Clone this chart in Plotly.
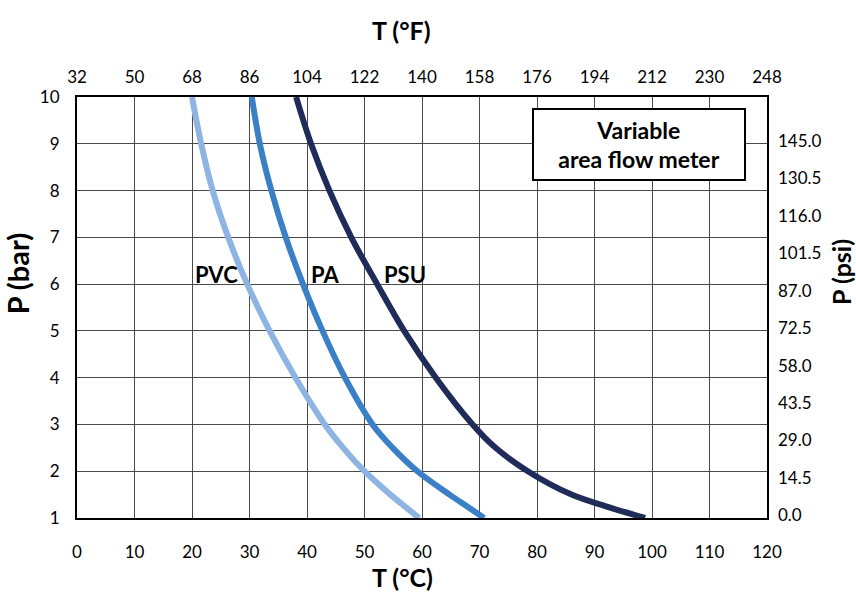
import plotly.graph_objects as go

# ---- data ----
P_BAR = [10, 9, 8, 7, 6, 5, 4, 3, 2.5, 2, 1.5, 1.25, 1]
T_PVC = [20.0, 21.6, 23.6, 26.3, 29.6, 33.5, 38.0, 43.1, 46.3, 50.0, 54.5, 57.0, 59.5]
T_PA = [30.4, 31.8, 33.8, 36.3, 39.3, 42.7, 46.6, 51.4, 54.9, 59.2, 64.8, 67.8, 70.8]
T_PSU = [38.1, 40.7, 43.9, 47.7, 52.2, 56.9, 62.4, 68.8, 72.8, 78.4, 86.0, 92.0, 98.8]
SERIES = ["PVC", "PA", "PSU"]
COLORS = ["#8DB4E2", "#3B80C6", "#1F2B58"]
LABEL_T = [24.2, 43.3, 57.0]
LABEL_P = [6.2, 6.2, 6.2]

C_TICKS = list(range(0, 121, 10))
F_TICKS = [32, 50, 68, 86, 104, 122, 140, 158, 176, 194, 212, 230, 248]
BAR_TICKS = list(range(1, 11))
PSI_TICKS = [0.0, 14.5, 29.0, 43.5, 58.0, 72.5, 87.0, 101.5, 116.0, 130.5, 145.0]

FONT = "Lato"
GRID = "#4a4a4a"

fig = go.Figure()
for name, t, col in zip(SERIES, [T_PVC, T_PA, T_PSU], COLORS):
    fig.add_trace(go.Scatter(x=t, y=P_BAR, mode="lines", name=name,
                             line=dict(color=col, width=6, shape="spline", smoothing=1.0),
                             showlegend=False, hoverinfo="skip"))

# invisible traces to activate secondary axes
fig.add_trace(go.Scatter(x=F_TICKS, y=[5] * len(F_TICKS), xaxis="x2", yaxis="y",
                         mode="markers", marker=dict(opacity=0), showlegend=False, hoverinfo="skip"))
fig.add_trace(go.Scatter(x=[60] * len(PSI_TICKS), y=PSI_TICKS, xaxis="x", yaxis="y2",
                         mode="markers", marker=dict(opacity=0), showlegend=False, hoverinfo="skip"))

for name, tx, py in zip(SERIES, LABEL_T, LABEL_P):
    fig.add_annotation(x=tx, y=py, xref="x", yref="y", text="<b>%s</b>" % name, showarrow=False,
                       xanchor="center", yanchor="middle",
                       font=dict(family=FONT, size=22, color="black"))

fig.add_annotation(x=0.814, y=0.887, xref="paper", yref="paper",
                   text="<b>Variable</b><br><b>area flow meter</b>", showarrow=False,
                   xanchor="center", yanchor="middle",
                   font=dict(family=FONT, size=23, color="black"),
                   bordercolor="black", borderwidth=2, borderpad=2, bgcolor="white",
                   width=206, height=65, align="center")

# axis titles
title_font = dict(family=FONT, size=25, color="black")
fig.add_annotation(x=0.471, y=1.159, xref="paper", yref="paper", text="<b>T (°F)</b>",
                   showarrow=False, xanchor="center", yanchor="middle", font=title_font)
fig.add_annotation(x=0.472, y=-0.140, xref="paper", yref="paper", text="<b>T (°C)</b>",
                   showarrow=False, xanchor="center", yanchor="middle", font=title_font)
fig.add_annotation(x=-0.085, y=0.582, xref="paper", yref="paper", text="<b>P (bar)</b>",
                   textangle=-90, showarrow=False, xanchor="center", yanchor="middle",
                   font=dict(family=FONT, size=29, color="black"))
fig.add_annotation(x=1.107, y=0.584, xref="paper", yref="paper", text="<b>P (psi)</b>",
                   textangle=-90, showarrow=False, xanchor="center", yanchor="middle",
                   font=dict(family=FONT, size=25, color="black"))

tickfont = dict(family=FONT, size=17, color="black")
fig.update_layout(
    width=856, height=594,
    margin=dict(l=77, r=89, t=97, b=76, autoexpand=False),
    paper_bgcolor="white", plot_bgcolor="white",
    xaxis=dict(range=[0, 120], tickvals=C_TICKS, showgrid=True, gridcolor=GRID, gridwidth=1,
               showline=True, linecolor="black", linewidth=2, mirror=True, zeroline=False,
               ticks="", ticklabelstandoff=18, tickfont=tickfont, automargin=False),
    xaxis2=dict(range=[32, 248], tickvals=F_TICKS, overlaying="x", side="top", showgrid=False,
                zeroline=False, ticks="", ticklabelstandoff=10, tickfont=tickfont, automargin=False),
    yaxis=dict(range=[1, 10], tickvals=BAR_TICKS, showgrid=True, gridcolor=GRID, gridwidth=1,
               showline=True, linecolor="black", linewidth=2, mirror=True, zeroline=False,
               ticks="", ticklabelstandoff=12, tickfont=tickfont, automargin=False),
    yaxis2=dict(range=[-1, 162], tickvals=PSI_TICKS, ticktext=["%.1f" % v for v in PSI_TICKS],
                overlaying="y", side="right", showgrid=False, zeroline=False,
                ticks="", ticklabelstandoff=10, tickfont=tickfont, automargin=False),
)

fig.write_html("out.html", config={"displayModeBar": False},
               post_script="document.body.style.margin='0';document.body.style.overflow='hidden';")
